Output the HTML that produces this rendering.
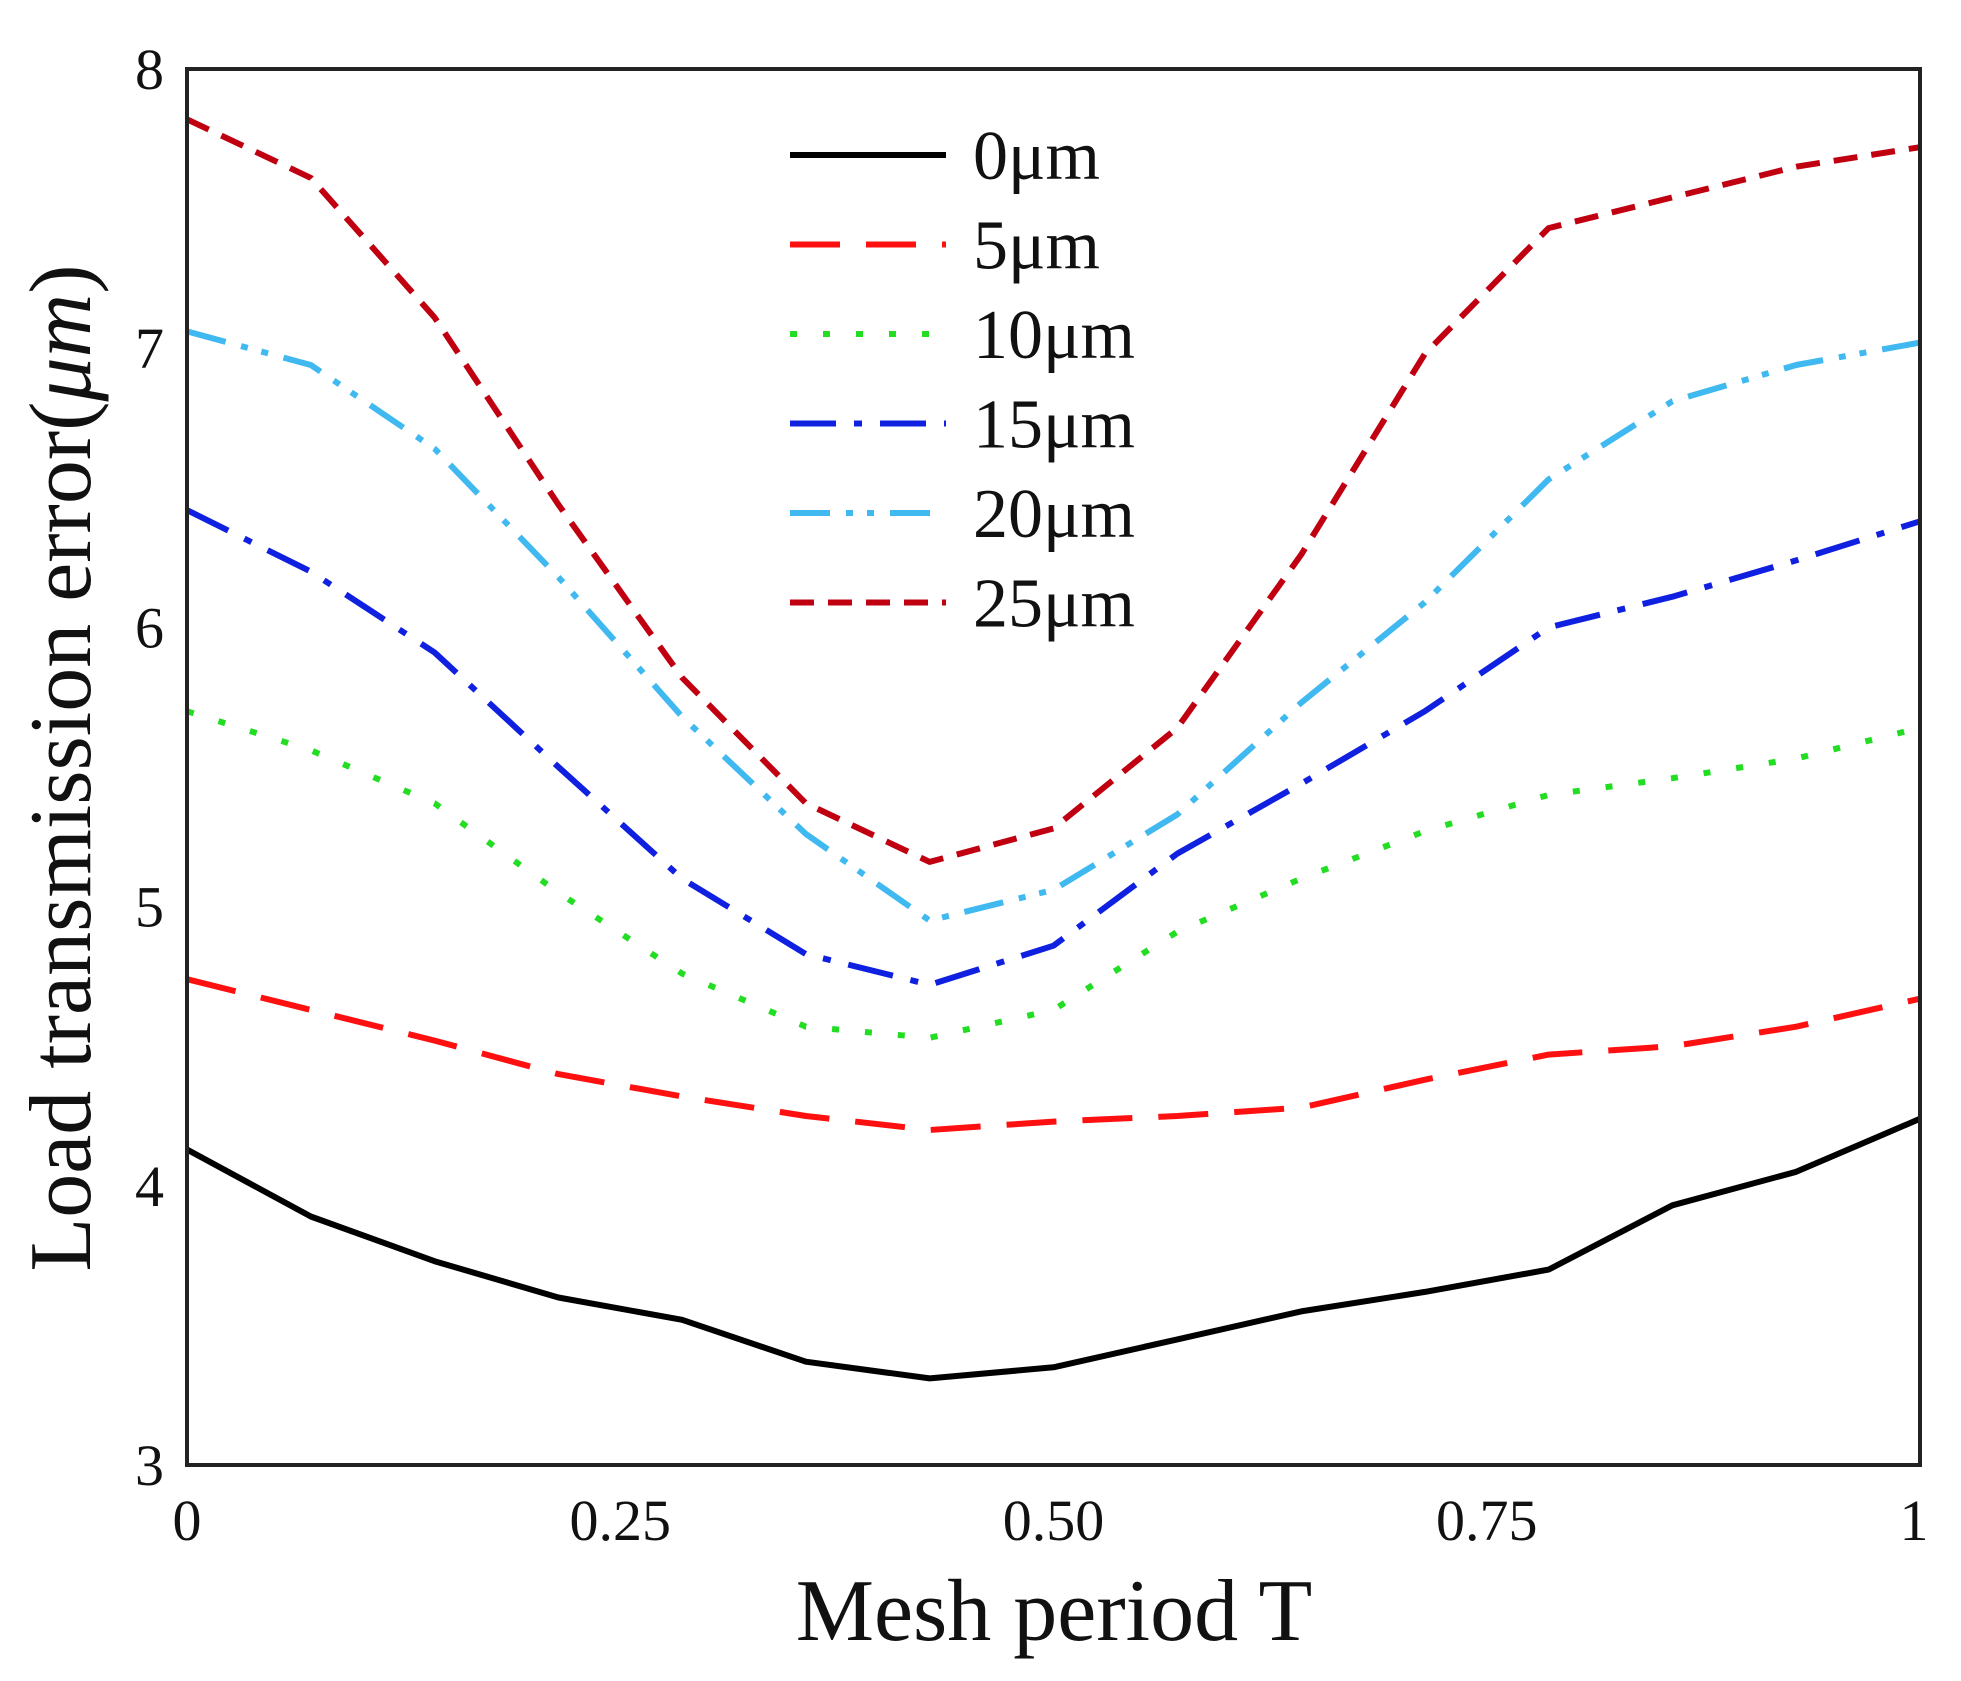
<!DOCTYPE html>
<html><head><meta charset="utf-8"><style>
html,body{margin:0;padding:0;background:#fff}
svg{display:block;font-family:"Liberation Serif",serif}
</style></head><body>
<svg id="chart" width="1961" height="1681" viewBox="0 0 1961 1681" xmlns="http://www.w3.org/2000/svg">
<g id="series"></g>
<rect x="187" y="69" width="1733" height="1396" fill="none" stroke="#222" stroke-width="4"/>
<g id="ticks"></g>
<g id="legend"></g>
<text x="1054" y="1640" font-size="88" text-anchor="middle" fill="#111">Mesh period T</text>
<text transform="translate(90,768) rotate(-90)" font-size="88" text-anchor="middle" fill="#111">Load transmission error(<tspan font-style="italic">μm</tspan>)</text>
</svg>
<script>
const xCount = 15;
const s0 = [4.13,3.89,3.73,3.60,3.52,3.37,3.31,3.35,3.45,3.55,3.62,3.70,3.93,4.05,4.24];
const s5 = [4.74,4.63,4.52,4.40,4.32,4.25,4.20,4.23,4.25,4.28,4.38,4.47,4.50,4.57,4.67];
const s10 = [5.70,5.56,5.37,5.05,4.76,4.57,4.53,4.63,4.91,5.10,5.27,5.40,5.46,5.53,5.64];
const s15 = [6.42,6.20,5.91,5.50,5.10,4.83,4.72,4.86,5.19,5.44,5.70,6.00,6.11,6.24,6.38];
const s20 = [7.06,6.94,6.64,6.18,5.68,5.26,4.95,5.06,5.33,5.73,6.09,6.53,6.81,6.94,7.02];
const s25 = [7.82,7.61,7.11,6.44,5.82,5.37,5.16,5.28,5.64,6.26,6.98,7.43,7.54,7.65,7.72];
const seriesLabels = ["0μm","5μm","10μm","15μm","20μm","25μm"];
const xTicks = [0,0.25,0.5,0.75,1];
const xTickLabels = ["0","0.25","0.50","0.75","1"];
const yTicks = [3,4,5,6,7,8];

const NS="http://www.w3.org/2000/svg";
const L=187,R=1920,T=69,B=1465;
const xs=v=>L+(R-L)*v;
const ys=v=>B-(B-T)*(v-3)/5;
const styles=[
 {c:"#000000",d:""},
 {c:"#ff1010",d:"50 26"},
 {c:"#22dd22",d:"7 26"},
 {c:"#1020e0",d:"46 18 8 18"},
 {c:"#40b8f0",d:"40 16 7 14 7 16"},
 {c:"#c00010",d:"24 14"}
];
const data=[s0,s5,s10,s15,s20,s25];
const sg=document.getElementById('series');
data.forEach((arr,k)=>{
 const p=document.createElementNS(NS,'path');
 
 
 p.setAttribute('d',arr.map((v,i)=>(i?'L':'M')+xs(i/(xCount-1)).toFixed(1)+' '+ys(v).toFixed(1)).join(' '));
 p.setAttribute('fill','none');p.setAttribute('stroke',styles[k].c);
 p.setAttribute('stroke-width','6');p.setAttribute('stroke-linejoin','round');
 if(styles[k].d)p.setAttribute('stroke-dasharray',styles[k].d);
 sg.appendChild(p);
});
const tg=document.getElementById('ticks');
xTicks.forEach((v,i)=>{
 const t=document.createElementNS(NS,'text');
 
 
 t.setAttribute('x',xs(v)+(i==4?-6:0));t.setAttribute('y',1540);
 t.setAttribute('font-size','58');t.setAttribute('text-anchor','middle');t.setAttribute('fill','#111');
 t.textContent=xTickLabels[i];tg.appendChild(t);
});
yTicks.forEach(v=>{
 const t=document.createElementNS(NS,'text');
 
 
 t.setAttribute('x',164);t.setAttribute('y',ys(v)+20);
 t.setAttribute('font-size','58');t.setAttribute('text-anchor','end');t.setAttribute('fill','#111');
 t.textContent=v;tg.appendChild(t);
});
const lg=document.getElementById('legend');
seriesLabels.forEach((lab,k)=>{
 const y=155+k*89.5;
 const l=document.createElementNS(NS,'line');
 
 
 l.setAttribute('x1',790);l.setAttribute('x2',946);l.setAttribute('y1',y);l.setAttribute('y2',y);
 l.setAttribute('stroke',styles[k].c);l.setAttribute('stroke-width','6');
 if(styles[k].d)l.setAttribute('stroke-dasharray',styles[k].d);
 lg.appendChild(l);
 const t=document.createElementNS(NS,'text');
 
 
 t.setAttribute('x',973);t.setAttribute('y',y+24);
 t.setAttribute('font-size','70');t.setAttribute('fill','#111');
 t.textContent=lab;lg.appendChild(t);
});
</script>
</body></html>
